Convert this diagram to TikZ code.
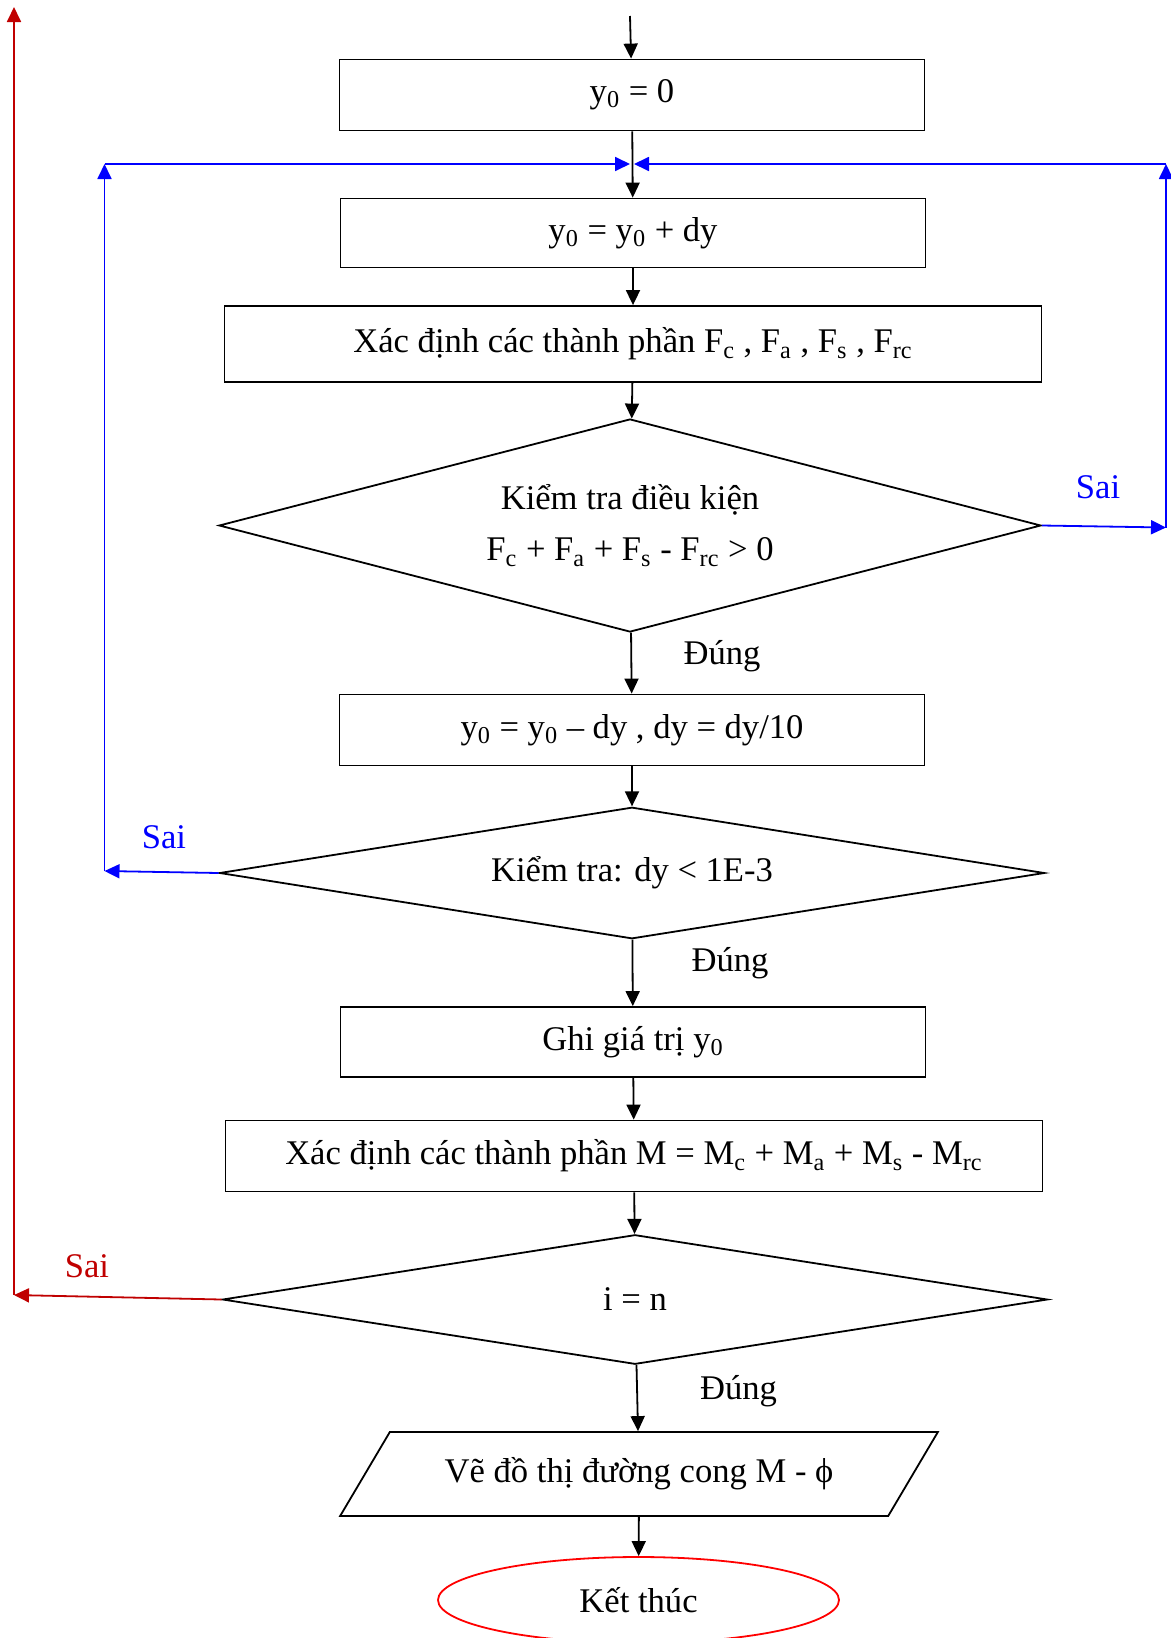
\documentclass[tikz,border=0pt]{standalone}
\usepackage{fontspec}
\setmainfont{Liberation Serif}
\usetikzlibrary{arrows.meta,shapes.geometric}
\definecolor{loopblue}{RGB}{0,0,255}
\definecolor{loopred}{RGB}{192,0,0}
\definecolor{endred}{RGB}{255,0,0}
\newcommand{\sbs}[1]{\textsubscript{#1}}
\begin{document}
\begin{tikzpicture}[x=0.5pt,y=-0.5pt,
  txt/.style={font=\fontsize{17.3pt}{25.5pt}\selectfont},
  procbox/.style={txt,draw,line width=0.9pt,rectangle,inner sep=0pt},
  decision/.style={txt,draw,line width=0.9pt,diamond,inner sep=0pt,align=center},
  iobox/.style={txt,draw,line width=0.9pt,trapezium,trapezium left angle=40,
    trapezium right angle=140,trapezium stretches=true,inner sep=0pt},
  terminal/.style={txt,draw=endred,line width=0.9pt,ellipse,inner sep=0pt},
  flow/.style={line width=0.9pt,-{Triangle[length=7.5pt,width=7pt]}},
  backloop/.style={line width=0.9pt,draw=loopblue,-{Triangle[length=7.5pt,width=7pt]},fill=loopblue},
  outloop/.style={line width=0.9pt,draw=loopred,-{Triangle[length=7.5pt,width=7pt]},fill=loopred}]

\useasboundingbox (0,0) rectangle (1171,1638);

% process steps
\node[procbox,minimum width=292.5pt,minimum height=35.5pt] (b1) at (632,95) {y\sbs{0} = 0};
\node[procbox,minimum width=292.5pt,minimum height=34.5pt] (b2) at (633,233) {y\sbs{0} = y\sbs{0} + dy};
\node[procbox,minimum width=408.5pt,minimum height=38pt] (b3) at (633,344)
  {Xác định các thành phần F\sbs{c} , F\sbs{a} , F\sbs{s} , F\sbs{rc}};
\node[decision,minimum width=411pt,minimum height=106.5pt,aspect=3.86] (d1) at (630,525.5)
  {Kiểm tra điều kiện\\F\sbs{c} + F\sbs{a} + F\sbs{s} - F\sbs{rc} > 0};
\node[procbox,minimum width=292.5pt,minimum height=35.5pt] (b4) at (632,730)
  {y\sbs{0} = y\sbs{0} – dy , dy = dy/10};
\node[decision,minimum width=412.5pt,minimum height=65.75pt,aspect=6.27] (d2) at (632,873)
  {Kiểm tra: dy < 1E-3};
\node[procbox,minimum width=292.5pt,minimum height=35pt] (b5) at (633,1042) {Ghi giá trị y\sbs{0}};
\node[procbox,minimum width=408.5pt,minimum height=35.5pt] (b6) at (634,1156)
  {Xác định các thành phần M = M\sbs{c} + M\sbs{a} + M\sbs{s} - M\sbs{rc}};
\node[decision,minimum width=412.5pt,minimum height=64.75pt,aspect=6.37] (d3) at (635,1299.5) {i = n};
\node[iobox,minimum width=299pt,minimum height=42pt] (io) at (639,1474) {Vẽ đồ thị đường cong M - ϕ};
\node[terminal,minimum width=200.5pt,minimum height=43pt] (stop) at (638.5,1600) {Kết thúc};

% loop corners
\coordinate (start) at (630,16);
\coordinate (ljoin) at (630,164);
\coordinate (rjoin) at (634,164);
\coordinate (lbot) at (104.5,871);
\coordinate (ltop) at (104.5,164);
\coordinate (rbot) at (1166,527.5);
\coordinate (rtop) at (1166,164);
\coordinate (redbot) at (14,1295);
\coordinate (redtop) at (14,7);

% main flow
\draw[flow] (start) -- (b1);
\draw[flow] (b1) -- (b2);
\draw[flow] (b2) -- (b3);
\draw[flow] (b3) -- (d1);
\draw[flow] (d1) -- (b4);
\draw[flow] (b4) -- (d2);
\draw[flow] (d2) -- (b5);
\draw[flow] (b5) -- (b6);
\draw[flow] (b6) -- (d3);
\draw[flow] (d3) -- (io);
\draw[flow] (io) -- (stop);

% "Sai" branch of the force check
\draw[backloop] (d1.east) -- (rbot);
\draw[backloop] (rbot) -- (rtop);
\draw[backloop] (rtop) -- (rjoin);

% "Sai" branch of the step check
\draw[backloop] (d2.west) -- (lbot);
\draw[backloop] (lbot) -- (ltop);
\draw[backloop] (ltop) -- (ljoin);

% "Sai" branch of i = n
\draw[outloop] (d3.west) -- (redbot);
\draw[outloop] (redbot) -- (redtop);

% branch labels
\node[txt,text=loopblue] (sai1) at (1098,487) {Sai};
\node[txt,text=loopblue] (sai2) at (164,837) {Sai};
\node[txt,text=loopred] (sai3) at (87,1266) {Sai};
\node[txt] (yes1) at (722,656) {Đúng};
\node[txt] (yes2) at (730,963) {Đúng};
\node[txt] (yes3) at (738.5,1391) {Đúng};
\end{tikzpicture}
\end{document}
